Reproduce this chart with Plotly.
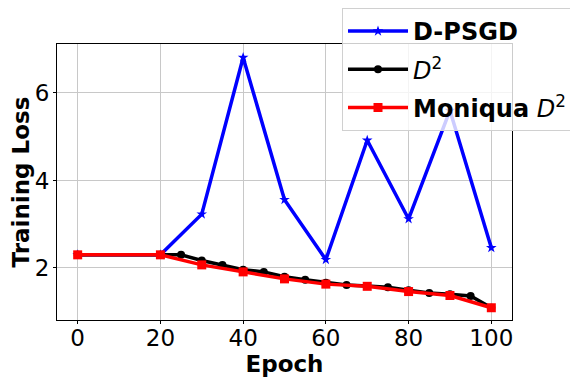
import plotly.graph_objects as go

x_dpsgd = [0, 20, 30, 40, 50, 60, 70, 80, 90, 100]
y_dpsgd = [2.30, 2.30, 3.23, 6.81, 3.56, 2.19, 4.92, 3.12, 5.60, 2.46]

x_d2 = [0, 20, 25, 30, 35, 40, 45, 50, 55, 60, 65, 70, 75, 80, 85, 90, 95, 100]
y_d2 = [2.30, 2.30, 2.30, 2.17, 2.07, 1.96, 1.91, 1.80, 1.73, 1.66, 1.61, 1.59, 1.56, 1.49, 1.43, 1.40, 1.36, 1.09]

x_moniqua = [0, 20, 30, 40, 50, 60, 70, 80, 90, 100]
y_moniqua = [2.30, 2.30, 2.07, 1.91, 1.75, 1.63, 1.58, 1.46, 1.37, 1.09]

names = ["<b>D-PSGD</b>", "<i>D</i><sup>2</sup>", "<b>Moniqua</b> <i>D</i><sup>2</sup>"]

fig = go.Figure()
fig.add_trace(go.Scatter(x=x_dpsgd, y=y_dpsgd, name=names[0], mode="lines+markers",
                         legendgroup="a",
                         line=dict(color="#0000ff", width=3.5),
                         marker=dict(symbol="star", size=8, color="#0000ff")))
fig.add_trace(go.Scatter(x=x_d2, y=y_d2, name=names[1], mode="lines+markers",
                         legendgroup="b",
                         line=dict(color="#000000", width=3.5),
                         marker=dict(symbol="circle", size=8, color="#000000")))
fig.add_trace(go.Scatter(x=x_moniqua, y=y_moniqua, name=names[2], mode="lines+markers",
                         legendgroup="c",
                         line=dict(color="#ff0000", width=3.5),
                         marker=dict(symbol="square", size=9, color="#ff0000")))

axis_common = dict(showline=True, linecolor="black", linewidth=1, mirror=True,
                   ticks="outside", ticklen=3, tickcolor="black", automargin=False,
                   showgrid=True, gridcolor="#c8c8c8", gridwidth=1, zeroline=False,
                   tickfont=dict(family="DejaVu Sans", size=23, color="black"))

# page body has an 8px margin; figure is offset accordingly
fig.update_layout(
    width=570, height=369,
    margin=dict(l=49, r=66, t=36, b=57, autoexpand=False),
    paper_bgcolor="white", plot_bgcolor="white",
    xaxis=dict(range=[-5, 105], tickvals=[0, 20, 40, 60, 80, 100],
               ticklabelstandoff=-6,
               title=dict(text="<b>Epoch</b>", standoff=0,
                          font=dict(family="DejaVu Sans", size=23, color="black")),
               **axis_common),
    yaxis=dict(range=[0.81, 7.12], tickvals=[2, 4, 6],
               ticklabelstandoff=-1,
               title=dict(text="<b>Training Loss</b>", standoff=4,
                          font=dict(family="DejaVu Sans", size=23, color="black")),
               **axis_common),
    legend=dict(x=334 / 570, y=1.0, xref="container", yref="container",
                xanchor="left", yanchor="top",
                bgcolor="rgba(255,255,255,0.8)", bordercolor="#d0d0d0", borderwidth=1,
                font=dict(family="DejaVu Sans", size=24, color="black"),
                tracegroupgap=4, itemwidth=60),
    showlegend=True,
)

fig.write_html("out.html")
